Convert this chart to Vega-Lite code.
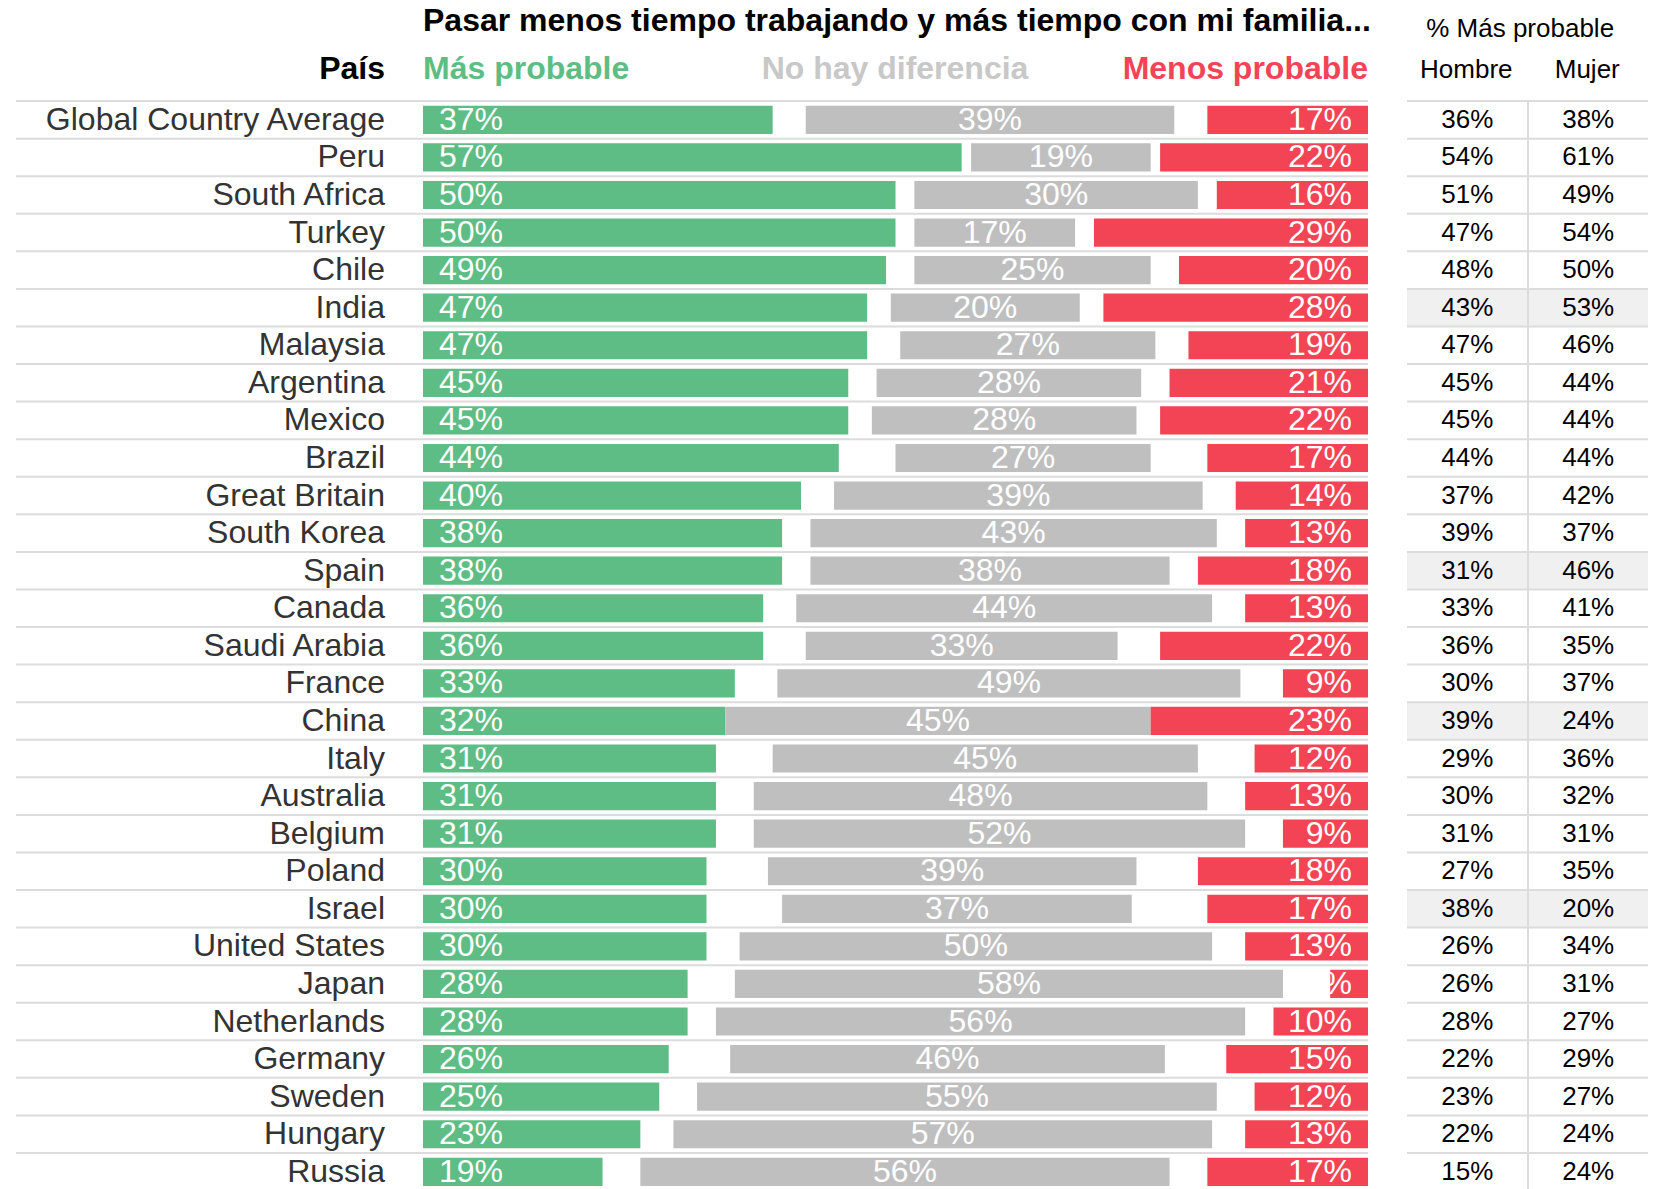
{
  "$schema": "https://vega.github.io/schema/vega-lite/v6.json",
  "width": 1663,
  "height": 1189,
  "padding": 0,
  "autosize": {"type": "none"},
  "background": "white",
  "config": {"view": {"stroke": null}, "font": "Liberation Sans"},
  "data": {"values": [
    {"country": "Global Country Average", "green": 37, "neutral": 39, "red": 17, "hombre": 36, "mujer": 38},
    {"country": "Peru", "green": 57, "neutral": 19, "red": 22, "hombre": 54, "mujer": 61},
    {"country": "South Africa", "green": 50, "neutral": 30, "red": 16, "hombre": 51, "mujer": 49},
    {"country": "Turkey", "green": 50, "neutral": 17, "red": 29, "hombre": 47, "mujer": 54},
    {"country": "Chile", "green": 49, "neutral": 25, "red": 20, "hombre": 48, "mujer": 50},
    {"country": "India", "green": 47, "neutral": 20, "red": 28, "hombre": 43, "mujer": 53},
    {"country": "Malaysia", "green": 47, "neutral": 27, "red": 19, "hombre": 47, "mujer": 46},
    {"country": "Argentina", "green": 45, "neutral": 28, "red": 21, "hombre": 45, "mujer": 44},
    {"country": "Mexico", "green": 45, "neutral": 28, "red": 22, "hombre": 45, "mujer": 44},
    {"country": "Brazil", "green": 44, "neutral": 27, "red": 17, "hombre": 44, "mujer": 44},
    {"country": "Great Britain", "green": 40, "neutral": 39, "red": 14, "hombre": 37, "mujer": 42},
    {"country": "South Korea", "green": 38, "neutral": 43, "red": 13, "hombre": 39, "mujer": 37},
    {"country": "Spain", "green": 38, "neutral": 38, "red": 18, "hombre": 31, "mujer": 46},
    {"country": "Canada", "green": 36, "neutral": 44, "red": 13, "hombre": 33, "mujer": 41},
    {"country": "Saudi Arabia", "green": 36, "neutral": 33, "red": 22, "hombre": 36, "mujer": 35},
    {"country": "France", "green": 33, "neutral": 49, "red": 9, "hombre": 30, "mujer": 37},
    {"country": "China", "green": 32, "neutral": 45, "red": 23, "hombre": 39, "mujer": 24},
    {"country": "Italy", "green": 31, "neutral": 45, "red": 12, "hombre": 29, "mujer": 36},
    {"country": "Australia", "green": 31, "neutral": 48, "red": 13, "hombre": 30, "mujer": 32},
    {"country": "Belgium", "green": 31, "neutral": 52, "red": 9, "hombre": 31, "mujer": 31},
    {"country": "Poland", "green": 30, "neutral": 39, "red": 18, "hombre": 27, "mujer": 35},
    {"country": "Israel", "green": 30, "neutral": 37, "red": 17, "hombre": 38, "mujer": 20},
    {"country": "United States", "green": 30, "neutral": 50, "red": 13, "hombre": 26, "mujer": 34},
    {"country": "Japan", "green": 28, "neutral": 58, "red": 4, "hombre": 26, "mujer": 31},
    {"country": "Netherlands", "green": 28, "neutral": 56, "red": 10, "hombre": 28, "mujer": 27},
    {"country": "Germany", "green": 26, "neutral": 46, "red": 15, "hombre": 22, "mujer": 29},
    {"country": "Sweden", "green": 25, "neutral": 55, "red": 12, "hombre": 23, "mujer": 27},
    {"country": "Hungary", "green": 23, "neutral": 57, "red": 13, "hombre": 22, "mujer": 24},
    {"country": "Russia", "green": 19, "neutral": 56, "red": 17, "hombre": 15, "mujer": 24}
  ]},
  "transform": [
    {"window": [{"op": "row_number", "as": "row"}]},
    {"calculate": "datum.green + (100 - datum.green - datum.neutral - datum.red) / 2", "as": "gs"},
    {"calculate": "datum.gs + datum.neutral", "as": "ge"},
    {"calculate": "datum.gs + datum.neutral / 2", "as": "gc"},
    {"calculate": "100 - datum.red", "as": "rs"},
    {"calculate": "datum.row - 0.5", "as": "top"},
    {"calculate": "datum.row + 0.5", "as": "bottom"},
    {"calculate": "datum.row - 0.375", "as": "b0"},
    {"calculate": "datum.row + 0.375", "as": "b1"},
    {"calculate": "datum.green + '%'", "as": "gl"},
    {"calculate": "datum.neutral + '%'", "as": "nl"},
    {"calculate": "datum.red + '%'", "as": "rl"},
    {"calculate": "datum.hombre + '%'", "as": "hl"},
    {"calculate": "datum.mujer + '%'", "as": "ml"}
  ],
  "layer": [
    {
      "transform": [{"filter": "abs(datum.mujer - datum.hombre) >= 10"}],
      "mark": {"type": "rect", "color": "#f0f0f0"},
      "encoding": {
        "x": {"datum": 104.13, "type": "quantitative", "scale": {"domain": [-44.762, 131.217], "nice": false, "zero": false}, "axis": null},
        "x2": {"datum": 129.63},
        "y": {"field": "top", "type": "quantitative", "scale": {"domain": [-2.19, 29.458], "nice": false, "zero": false, "reverse": true}, "axis": null},
        "y2": {"field": "bottom"}
      }
    },
    {
      "mark": {"type": "rule", "color": "#dcdcdc", "strokeWidth": 2},
      "encoding": {
        "x": {"datum": -43.07, "type": "quantitative", "scale": {"domain": [-44.762, 131.217], "nice": false, "zero": false}, "axis": null},
        "x2": {"datum": 100},
        "y": {"field": "top", "type": "quantitative", "scale": {"domain": [-2.19, 29.458], "nice": false, "zero": false, "reverse": true}, "axis": null}
      }
    },
    {
      "mark": {"type": "rule", "color": "#dcdcdc", "strokeWidth": 2},
      "encoding": {
        "x": {"datum": 104.13, "type": "quantitative", "scale": {"domain": [-44.762, 131.217], "nice": false, "zero": false}, "axis": null},
        "x2": {"datum": 129.63},
        "y": {"field": "top", "type": "quantitative", "scale": {"domain": [-2.19, 29.458], "nice": false, "zero": false, "reverse": true}, "axis": null}
      }
    },
    {
      "data": {"values": [{"divider": "Hombre|Mujer"}]},
      "mark": {"type": "rule", "color": "#dcdcdc", "strokeWidth": 2},
      "encoding": {
        "x": {"datum": 116.93, "type": "quantitative", "scale": {"domain": [-44.762, 131.217], "nice": false, "zero": false}, "axis": null},
        "y": {"datum": 0.5, "type": "quantitative", "scale": {"domain": [-2.19, 29.458], "nice": false, "zero": false, "reverse": true}, "axis": null},
        "y2": {"datum": 30}
      }
    },
    {
      "mark": {"type": "rect", "color": "#5ebd84"},
      "encoding": {
        "x": {"field": "green", "type": "quantitative", "scale": {"domain": [-44.762, 131.217], "nice": false, "zero": false}, "axis": null},
        "x2": {"datum": 0},
        "y": {"field": "b0", "type": "quantitative", "scale": {"domain": [-2.19, 29.458], "nice": false, "zero": false, "reverse": true}, "axis": null},
        "y2": {"field": "b1"}
      }
    },
    {
      "mark": {"type": "rect", "color": "#bfbfbf"},
      "encoding": {
        "x": {"field": "gs", "type": "quantitative", "scale": {"domain": [-44.762, 131.217], "nice": false, "zero": false}, "axis": null},
        "x2": {"field": "ge"},
        "y": {"field": "b0", "type": "quantitative", "scale": {"domain": [-2.19, 29.458], "nice": false, "zero": false, "reverse": true}, "axis": null},
        "y2": {"field": "b1"}
      }
    },
    {
      "mark": {"type": "rect", "color": "#f24455"},
      "encoding": {
        "x": {"field": "rs", "type": "quantitative", "scale": {"domain": [-44.762, 131.217], "nice": false, "zero": false}, "axis": null},
        "x2": {"datum": 100},
        "y": {"field": "b0", "type": "quantitative", "scale": {"domain": [-2.19, 29.458], "nice": false, "zero": false, "reverse": true}, "axis": null},
        "y2": {"field": "b1"}
      }
    },
    {
      "mark": {"type": "text", "align": "left", "baseline": "middle", "dx": 16, "fontSize": 32, "color": "white"},
      "encoding": {
        "x": {"datum": 0, "type": "quantitative", "scale": {"domain": [-44.762, 131.217], "nice": false, "zero": false}, "axis": null},
        "y": {"field": "row", "type": "quantitative", "scale": {"domain": [-2.19, 29.458], "nice": false, "zero": false, "reverse": true}, "axis": null},
        "text": {"field": "gl"}
      }
    },
    {
      "mark": {"type": "text", "align": "center", "baseline": "middle", "fontSize": 32, "color": "white"},
      "encoding": {
        "x": {"field": "gc", "type": "quantitative", "scale": {"domain": [-44.762, 131.217], "nice": false, "zero": false}, "axis": null},
        "y": {"field": "row", "type": "quantitative", "scale": {"domain": [-2.19, 29.458], "nice": false, "zero": false, "reverse": true}, "axis": null},
        "text": {"field": "nl"}
      }
    },
    {
      "mark": {"type": "text", "align": "right", "baseline": "middle", "dx": -16, "fontSize": 32, "color": "white"},
      "encoding": {
        "x": {"datum": 100, "type": "quantitative", "scale": {"domain": [-44.762, 131.217], "nice": false, "zero": false}, "axis": null},
        "y": {"field": "row", "type": "quantitative", "scale": {"domain": [-2.19, 29.458], "nice": false, "zero": false, "reverse": true}, "axis": null},
        "text": {"field": "rl"}
      }
    },
    {
      "mark": {"type": "text", "align": "right", "baseline": "middle", "fontSize": 32, "color": "#333333"},
      "encoding": {
        "x": {"datum": -4.02, "type": "quantitative", "scale": {"domain": [-44.762, 131.217], "nice": false, "zero": false}, "axis": null},
        "y": {"field": "row", "type": "quantitative", "scale": {"domain": [-2.19, 29.458], "nice": false, "zero": false, "reverse": true}, "axis": null},
        "text": {"field": "country"}
      }
    },
    {
      "mark": {"type": "text", "align": "center", "baseline": "middle", "fontSize": 26, "color": "black"},
      "encoding": {
        "x": {"datum": 110.5, "type": "quantitative", "scale": {"domain": [-44.762, 131.217], "nice": false, "zero": false}, "axis": null},
        "y": {"field": "row", "type": "quantitative", "scale": {"domain": [-2.19, 29.458], "nice": false, "zero": false, "reverse": true}, "axis": null},
        "text": {"field": "hl"}
      }
    },
    {
      "mark": {"type": "text", "align": "center", "baseline": "middle", "fontSize": 26, "color": "black"},
      "encoding": {
        "x": {"datum": 123.3, "type": "quantitative", "scale": {"domain": [-44.762, 131.217], "nice": false, "zero": false}, "axis": null},
        "y": {"field": "row", "type": "quantitative", "scale": {"domain": [-2.19, 29.458], "nice": false, "zero": false, "reverse": true}, "axis": null},
        "text": {"field": "ml"}
      }
    },
    {
      "data": {"values": [{"label": "Pasar menos tiempo trabajando y más tiempo con mi familia..."}]},
      "mark": {"type": "text", "align": "left", "baseline": "middle", "fontSize": 32, "fontWeight": "bold", "color": "black"},
      "encoding": {
        "x": {"datum": 0, "type": "quantitative", "scale": {"domain": [-44.762, 131.217], "nice": false, "zero": false}, "axis": null},
        "y": {"datum": -1.631, "type": "quantitative", "scale": {"domain": [-2.19, 29.458], "nice": false, "zero": false, "reverse": true}, "axis": null},
        "text": {"field": "label"}
      }
    },
    {
      "data": {"values": [{"label": "País"}]},
      "mark": {"type": "text", "align": "right", "baseline": "middle", "fontSize": 32, "fontWeight": "bold", "color": "black"},
      "encoding": {
        "x": {"datum": -4.02, "type": "quantitative", "scale": {"domain": [-44.762, 131.217], "nice": false, "zero": false}, "axis": null},
        "y": {"datum": -0.356, "type": "quantitative", "scale": {"domain": [-2.19, 29.458], "nice": false, "zero": false, "reverse": true}, "axis": null},
        "text": {"field": "label"}
      }
    },
    {
      "data": {"values": [{"label": "Más probable"}]},
      "mark": {"type": "text", "align": "left", "baseline": "middle", "fontSize": 32, "fontWeight": "bold", "color": "#5ebd84"},
      "encoding": {
        "x": {"datum": 0, "type": "quantitative", "scale": {"domain": [-44.762, 131.217], "nice": false, "zero": false}, "axis": null},
        "y": {"datum": -0.356, "type": "quantitative", "scale": {"domain": [-2.19, 29.458], "nice": false, "zero": false, "reverse": true}, "axis": null},
        "text": {"field": "label"}
      }
    },
    {
      "data": {"values": [{"label": "No hay diferencia"}]},
      "mark": {"type": "text", "align": "center", "baseline": "middle", "fontSize": 32, "fontWeight": "bold", "color": "#c8c8c8"},
      "encoding": {
        "x": {"datum": 49.95, "type": "quantitative", "scale": {"domain": [-44.762, 131.217], "nice": false, "zero": false}, "axis": null},
        "y": {"datum": -0.356, "type": "quantitative", "scale": {"domain": [-2.19, 29.458], "nice": false, "zero": false, "reverse": true}, "axis": null},
        "text": {"field": "label"}
      }
    },
    {
      "data": {"values": [{"label": "Menos probable"}]},
      "mark": {"type": "text", "align": "right", "baseline": "middle", "fontSize": 32, "fontWeight": "bold", "color": "#f24455"},
      "encoding": {
        "x": {"datum": 100, "type": "quantitative", "scale": {"domain": [-44.762, 131.217], "nice": false, "zero": false}, "axis": null},
        "y": {"datum": -0.356, "type": "quantitative", "scale": {"domain": [-2.19, 29.458], "nice": false, "zero": false, "reverse": true}, "axis": null},
        "text": {"field": "label"}
      }
    },
    {
      "data": {"values": [{"label": "% Más probable"}]},
      "mark": {"type": "text", "align": "center", "baseline": "middle", "fontSize": 26, "color": "black"},
      "encoding": {
        "x": {"datum": 116.1, "type": "quantitative", "scale": {"domain": [-44.762, 131.217], "nice": false, "zero": false}, "axis": null},
        "y": {"datum": -1.428, "type": "quantitative", "scale": {"domain": [-2.19, 29.458], "nice": false, "zero": false, "reverse": true}, "axis": null},
        "text": {"field": "label"}
      }
    },
    {
      "data": {"values": [{"label": "Hombre"}]},
      "mark": {"type": "text", "align": "center", "baseline": "middle", "fontSize": 26, "color": "black"},
      "encoding": {
        "x": {"datum": 110.4, "type": "quantitative", "scale": {"domain": [-44.762, 131.217], "nice": false, "zero": false}, "axis": null},
        "y": {"datum": -0.327, "type": "quantitative", "scale": {"domain": [-2.19, 29.458], "nice": false, "zero": false, "reverse": true}, "axis": null},
        "text": {"field": "label"}
      }
    },
    {
      "data": {"values": [{"label": "Mujer"}]},
      "mark": {"type": "text", "align": "center", "baseline": "middle", "fontSize": 26, "color": "black"},
      "encoding": {
        "x": {"datum": 123.2, "type": "quantitative", "scale": {"domain": [-44.762, 131.217], "nice": false, "zero": false}, "axis": null},
        "y": {"datum": -0.327, "type": "quantitative", "scale": {"domain": [-2.19, 29.458], "nice": false, "zero": false, "reverse": true}, "axis": null},
        "text": {"field": "label"}
      }
    }
  ]
}
